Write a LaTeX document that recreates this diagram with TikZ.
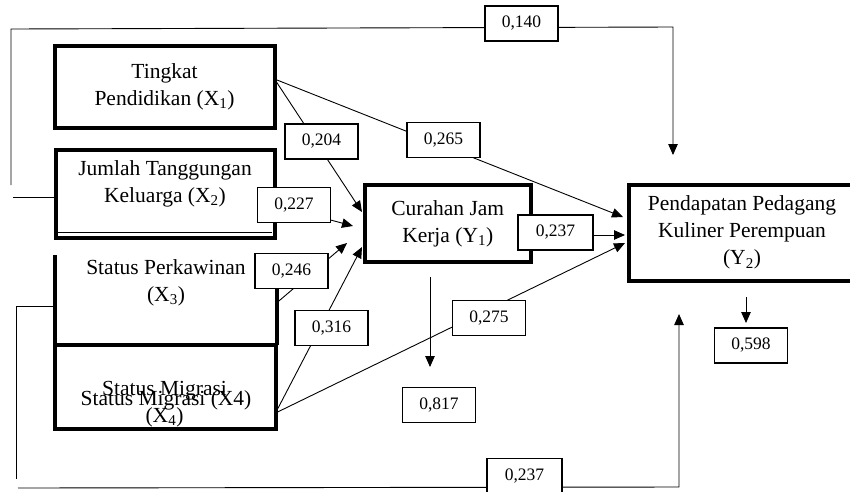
\documentclass[tikz,border=0pt]{standalone}
\usepackage{fontspec}
\setmainfont{Liberation Serif}
\usetikzlibrary{arrows.meta}
\newcommand\mybigfont{\fontsize{21.5}{27}\selectfont}
\newcommand\mynumfont{\fontsize{17.5}{20}\selectfont}
\tikzset{
  bigbox/.style={draw, line width=4pt, inner sep=0pt, outer sep=0pt, align=center, font=\mybigfont},
  labbox/.style={draw, fill=white, line width=1.2pt, minimum width=73pt, minimum height=35pt, inner sep=0pt, outer sep=0pt, font=\mynumfont},
  txt/.style={align=center, font=\mybigfont, inner sep=0pt, outer sep=0pt},
  con/.style={line width=0.9pt},
  arr/.style={con, -{Triangle[length=11pt,width=9.5pt]}},
  thickline/.style={line width=4pt}
}
\begin{document}
\begin{tikzpicture}[x=1pt,y=-1pt]
\useasboundingbox (0,0) rectangle (850,491);
\clip (0,0) rectangle (850,491);

% main boxes
\node[bigbox, minimum width=220pt, minimum height=82pt] (X1) at (164.5,86.5) {Tingkat\\Pendidikan (X\textsubscript{1})};
\node[bigbox, minimum width=219pt, minimum height=88pt] (X2) at (165,193.5) {};
\node[txt] (X2t) at (165,184) {Jumlah Tanggungan\\Keluarga (X\textsubscript{2})};
\draw[line width=1pt] (57,232.5) -- (272,232.5);

\node[txt] (X3) at (166,283) {Status Perkawinan\\(X\textsubscript{3})};
\draw[thickline] (55,255) -- (55,344.5);
\draw[thickline] (276.5,255) -- (276.5,344.5);

\node[bigbox, minimum width=220.5pt, minimum height=84.5pt] (X4) at (165.25,386.75) {};
\node[txt, anchor=base] (X4a) at (166,405) {Status Migrasi (X4)};
\node[txt] (X4b) at (164.5,404.5) {Status Migrasi\\(X\textsubscript{4})};
\draw[thickline] (X4.south west) -- (X4.south east);

\node[bigbox, minimum width=165.5pt, minimum height=77pt] (Y1) at (447.75,223.5) {Curahan Jam\\Kerja (Y\textsubscript{1})};
\node[bigbox, fill=white, minimum width=226pt, minimum height=96.5pt] (Y2) at (742,232.75) {Pendapatan Pedagang\\Kuliner Perempuan\\(Y\textsubscript{2})};

% coordinates
\coordinate (x1s) at (X1.east |- 0,79);
\coordinate (x2s) at (X2.east |- 0,205);
\coordinate (x3s) at (276.5,303);
\coordinate (x4s) at (X4.east |- 0,413);
\coordinate (y1s) at (Y1.east |- 0,235);
\coordinate (t204) at (362,212);
\coordinate (t227) at (353,226);
\coordinate (t246) at (347,243);
\coordinate (t316) at (362,247);
\coordinate (t265) at (623,217);
\coordinate (t237) at (625,235);
\coordinate (t275) at (625,243);
\coordinate (tl0) at (11,185);
\coordinate (tl1) at (11,29);
\coordinate (tl2) at (673,27);
\coordinate (tl3) at (673,155);
\coordinate (s2) at (13,197);
\coordinate (b1) at (16,306);
\coordinate (b2) at (16,479);
\coordinate (b3) at (18,488);
\coordinate (b4) at (679,487);
\coordinate (b5) at (679,314);
\coordinate (y1d) at (430,277);
\coordinate (t817) at (430,367);
\coordinate (y2d) at (746,297);
\coordinate (t598) at (746,323);

% connectors
\draw[arr] (x1s) -- (t204);
\draw[arr] (x1s) -- (t265);
\draw[arr] (x2s) -- (t227);
\draw[arr] (x3s) -- (t246);
\draw[arr] (x4s) -- (t316);
\draw[arr] (x4s) -- (t275);
\draw[arr] (y1s) -- (t237);
\draw[arr] (tl0) -- (tl1) -- (tl2) -- (tl3);
\draw[con] (s2) -- (s2 -| X2.west);
\draw[con] (55,306) -- (b1) -- (b2);
\draw[arr] (b3) -- (b4) -- (b5);
\draw[arr] (y1d) -- (t817);
\draw[arr] (y2d) -- (t598);

% coefficient labels
\node[labbox] (l140) at (521.5,23.5) {0,140};
\node[labbox] (l204) at (321.5,141.5) {0,204};
\node[labbox] (l265) at (443.5,140) {0,265};
\node[labbox] (l227) at (294,205) {0,227};
\node[labbox] (l246) at (291.5,271) {0,246};
\node[labbox] (l316) at (331.5,328) {0,316};
\node[labbox, minimum width=75pt] (l237a) at (555.5,232.5) {0,237};
\node[labbox] (l275) at (489,318) {0,275};
\node[labbox] (l817) at (439,405) {0,817};
\node[labbox] (l598) at (751,345.5) {0,598};
\node[labbox, minimum width=75pt] (l237b) at (524.5,476) {0,237};
\end{tikzpicture}
\end{document}
